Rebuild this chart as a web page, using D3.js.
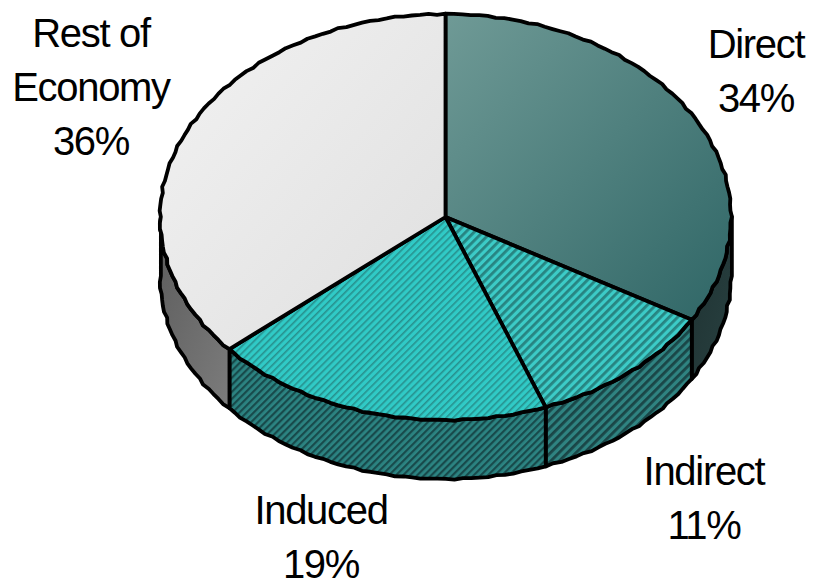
<!DOCTYPE html>
<html><head><meta charset="utf-8">
<script src="https://cdn.jsdelivr.net/npm/d3@7"></script>
<style>html,body{margin:0;padding:0;background:#fff}svg{display:block}
text{font-family:"Liberation Sans",Arial,sans-serif;font-size:40px;fill:#000;letter-spacing:-1.3px}</style>
</head><body><svg id="c" width="813" height="581"></svg>
<script>
const categories = ["Direct","Indirect","Induced","Rest of Economy"];
const shares = [33.45,10.85,19.4,36.3];
const labelShares = [34,11,19,36];
const svg = d3.select("#c");
const cx=445.5, cy=217, rx=285.5, ry=203, depth=59;
const defs = svg.append("defs");
function grad(id,a,b){const g=defs.append("linearGradient").attr("id",id).attr("x1","0").attr("y1","0").attr("x2","1").attr("y2","1");
 g.append("stop").attr("offset",0).attr("stop-color",a);g.append("stop").attr("offset",1).attr("stop-color",b);}
grad("gDirect","#6f9a96","#2f6666");
grad("gRest","#f2f2f2","#dfdfdf");
grad("gDirectSide","#1f3232","#284040");
grad("gRestSide","#5c5c5c","#7c7c7c");
function hatch(id,base,stripe,w,sw){const p=defs.append("pattern").attr("id",id).attr("patternUnits","userSpaceOnUse").attr("width",w).attr("height",w).attr("patternTransform","rotate(-45)");
 p.append("rect").attr("width",w).attr("height",w).attr("fill",base);
 p.append("rect").attr("width",w).attr("height",sw).attr("fill",stripe);}
hatch("hIndirect","#3ccbc7","#278481",6,2.8);
hatch("hInduced","#30cac6","#27918e",5,1.6);
hatch("hIndirectSide","#2f8381","#1a4647",6,2.8);
hatch("hInducedSide","#2c8482","#184a4b",5,2.2);
const tops=["url(#gDirect)","url(#hIndirect)","url(#hInduced)","url(#gRest)"];
const sides=["url(#gDirectSide)","url(#hIndirectSide)","url(#hInducedSide)","url(#gRestSide)"];
const pie=d3.pie().sort(null)(shares);
const wob=t=>1+0.0022*Math.sin(t*61)+0.0016*Math.sin(t*97+1);
const pt=(t,dy=0)=>[cx+rx*wob(t)*Math.sin(t),cy-ry*wob(t)*Math.cos(t)+dy];
const arcPts=(a,b,dy=0)=>{const n=Math.max(2,Math.ceil((b-a)/0.03));return d3.range(n+1).map(i=>pt(a+(b-a)*i/n,dy));};
const line=d3.line().curve(d3.curveLinear);
const g=svg.append("g");
pie.forEach((d,i)=>{
 const a=Math.max(d.startAngle,Math.PI/2),b=Math.min(d.endAngle,Math.PI*1.5);
 if(b<=a)return;
 const p=arcPts(a,b).concat(arcPts(a,b,depth).reverse());
 g.append("path").attr("d",line(p)+"Z").attr("fill",sides[i]).attr("stroke","#000").attr("stroke-width",3.8).attr("stroke-linejoin","round");
});
pie.forEach((d,i)=>{
 const p=[[cx,cy]].concat(arcPts(d.startAngle,d.endAngle));
 g.append("path").attr("d",line(p)+"Z").attr("fill",tops[i]).attr("stroke","#000").attr("stroke-width",3.8).attr("stroke-linejoin","round");
});
const labelLines=[["Direct"],["Indirect"],["Induced"],["Rest of","Economy"]];
const labelAnchors=[[756,58],[704,485],[321,524],[91,47]];
categories.forEach((c,i)=>{
 const lines=labelLines[i].concat([labelShares[i]+"%"]);
 const t=svg.append("text").attr("text-anchor","middle");
 lines.forEach((l,j)=>t.append("tspan").attr("x",labelAnchors[i][0]).attr("y",labelAnchors[i][1]+j*54).text(l));
});
</script></body></html>
